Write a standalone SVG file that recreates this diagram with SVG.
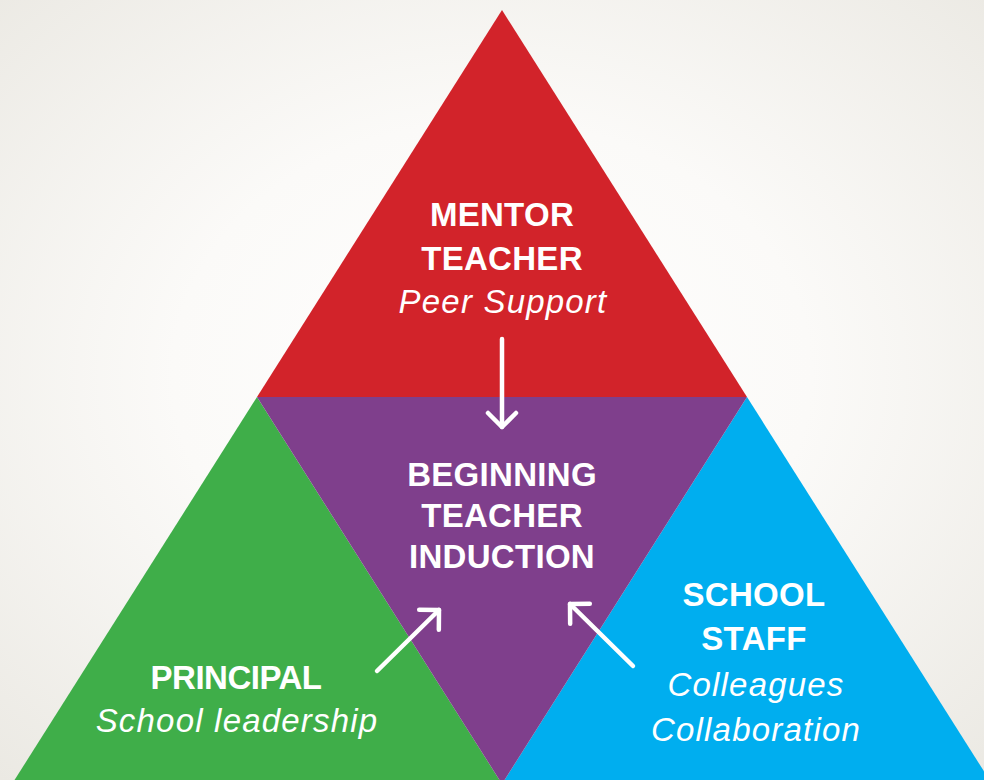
<svg xmlns="http://www.w3.org/2000/svg" width="984" height="780" viewBox="0 0 984 780">
  <defs>
    <radialGradient id="bg" cx="50%" cy="48%" r="72%">
      <stop offset="0" stop-color="#ffffff"/>
      <stop offset="0.45" stop-color="#fbfaf8"/>
      <stop offset="1" stop-color="#ebe9e3"/>
    </radialGradient>
    <marker id="head" markerUnits="userSpaceOnUse" viewBox="-18 -18 22 36" markerWidth="22" markerHeight="36" refX="0" refY="0" orient="auto" overflow="visible">
      <path d="M -14 -14 L 0 0 L -14 14" fill="none" stroke="#ffffff" stroke-width="4.5" stroke-linecap="round" stroke-linejoin="round"/>
    </marker>
  </defs>
  <style>
    .bold { font-family: "Liberation Sans", Arial, sans-serif; font-weight: bold; font-size: 33px; fill: #ffffff; text-anchor: middle; letter-spacing: 0.3px; }
    .ital { font-family: "Liberation Sans", Arial, sans-serif; font-style: italic; font-size: 33px; fill: #ffffff; text-anchor: middle; letter-spacing: 1.2px; }
    .arrow { fill: none; stroke: #ffffff; stroke-width: 4.5; stroke-linecap: round; marker-end: url(#head); }
  </style>
  <rect x="0" y="0" width="984" height="780" fill="url(#bg)"/>

  <g id="mentor">
    <polygon points="502,10 257,397 747,397" fill="#d2232a"/>
    <text class="bold" x="502" y="226">MENTOR</text>
    <text class="bold" x="502" y="270">TEACHER</text>
    <text class="ital" x="503" y="313">Peer Support</text>
  </g>

  <g id="principal">
    <polygon points="257,397 12,784 502,784" fill="#3fae49"/>
    <text class="bold" x="236" y="689" style="letter-spacing:-0.5px">PRINCIPAL</text>
    <text class="ital" x="237" y="732">School leadership</text>
  </g>

  <g id="staff">
    <polygon points="747,397 502,784 992,784" fill="#00aeef"/>
    <text class="bold" x="754" y="606">SCHOOL</text>
    <text class="bold" x="754" y="650">STAFF</text>
    <text class="ital" x="756" y="696">Colleagues</text>
    <text class="ital" x="756" y="741">Collaboration</text>
  </g>

  <g id="induction">
    <polygon points="257,397 747,397 502,784" fill="#7f3f8c"/>
    <text class="bold" x="502" y="486">BEGINNING</text>
    <text class="bold" x="502" y="527">TEACHER</text>
    <text class="bold" x="502" y="568">INDUCTION</text>
  </g>

  <g id="connectors">
    <line class="arrow" x1="502" y1="339" x2="502" y2="427"/>
    <line class="arrow" x1="377" y1="671" x2="439" y2="610"/>
    <line class="arrow" x1="633" y1="666" x2="570" y2="604"/>
  </g>
</svg>
